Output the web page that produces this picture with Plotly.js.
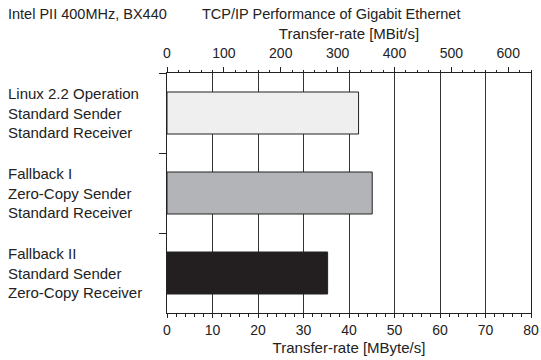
<!DOCTYPE html>
<html>
<head>
<meta charset="utf-8">
<script src="https://cdn.plot.ly/plotly-3.0.1.min.js"></script>
<style>html,body{margin:0;padding:0;background:#fff;}#chart{width:541px;height:360px;}</style>
</head>
<body>
<div id="chart"></div>
<script>
const categories = [
  "Linux 2.2 Operation<br>Standard Sender<br>Standard Receiver",
  "Fallback I<br>Zero-Copy Sender<br>Standard Receiver",
  "Fallback II<br>Standard Sender<br>Zero-Copy Receiver"
];
const rateMByte = [42.1, 45.1, 35.3];
const barColors = ["#efefef", "#b3b4b7", "#231f20"];
const rateMBit = rateMByte.map(v => v * 8);

const FONT = "'Liberation Sans', Arial, sans-serif";
const ink = "#222";

const traces = [
  {
    type: "bar", orientation: "h",
    x: rateMByte, y: categories,
    width: 0.525,
    marker: { color: barColors, line: { color: ink, width: 1 } },
    hoverinfo: "skip", showlegend: false
  },
  {
    type: "scatter", mode: "markers",
    x: rateMBit, y: categories, xaxis: "x2",
    marker: { opacity: 0 }, hoverinfo: "skip", showlegend: false
  }
];

const layout = {
  width: 541, height: 360,
  margin: { l: 167, r: 9.5, t: 73, b: 47, pad: 0 },
  paper_bgcolor: "#fff", plot_bgcolor: "#fff",
  font: { family: FONT, size: 14, color: ink },
  showlegend: false,
  xaxis: {
    range: [0, 80], dtick: 10, tick0: 0,
    showline: true, linecolor: ink, linewidth: 1, mirror: true,
    ticks: "outside", ticklen: 4, tickcolor: ink, tickwidth: 1,
    minor: { dtick: 2, ticks: "outside", ticklen: 2.5, tickcolor: ink, showgrid: false },
    showgrid: true, gridcolor: "#333", gridwidth: 1,
    zeroline: false,
    tickfont: { family: FONT, size: 14, color: ink },
    title: { text: "Transfer-rate [MByte/s]", font: { family: FONT, size: 15, color: ink }, standoff: 5 }
  },
  xaxis2: {
    overlaying: "x", side: "top", anchor: "y",
    range: [0, 640], dtick: 100, tick0: 0,
    showline: true, linecolor: ink, linewidth: 1,
    ticks: "outside", ticklen: 5, tickcolor: ink, tickwidth: 1,
    ticklabelstandoff: 3,
    minor: { dtick: 20, ticks: "outside", ticklen: 2.5, tickcolor: ink, showgrid: false },
    showgrid: false, zeroline: false,
    tickfont: { family: FONT, size: 14, color: ink },
    title: { text: "Transfer-rate [MBit/s]", font: { family: FONT, size: 15, color: ink }, standoff: 2 }
  },
  yaxis: {
    type: "category", autorange: "reversed",
    tickson: "boundaries", ticks: "outside", ticklen: 7, tickcolor: ink,
    showticklabels: false, showgrid: false, zeroline: false,
    showline: true, linecolor: ink, linewidth: 1, mirror: true
  },
  annotations: [
    ...categories.map(c => ({
      text: c, x: -0.4417, xref: "paper", xanchor: "left",
      y: c, yref: "y", yanchor: "middle", align: "left",
      showarrow: false, font: { family: FONT, size: 15, color: ink }
    })),
    {
      text: "Intel PII 400MHz, BX440", x: -0.4417, xref: "paper", xanchor: "left",
      y: 1.246, yref: "paper", yanchor: "middle", showarrow: false,
      font: { family: FONT, size: 14.5, color: ink }
    },
    {
      text: "TCP/IP Performance of Gigabit Ethernet", x: 0.45, xref: "paper", xanchor: "center",
      y: 1.246, yref: "paper", yanchor: "middle", showarrow: false,
      font: { family: FONT, size: 14.5, color: ink }
    }
  ]
};

Plotly.newPlot("chart", traces, layout, { displayModeBar: false, staticPlot: true });
</script>
</body>
</html>
